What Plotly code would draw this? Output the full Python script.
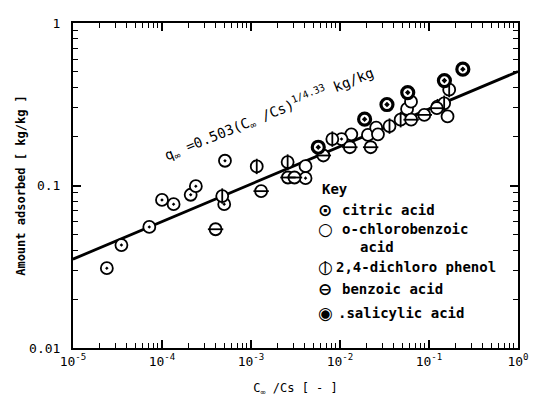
import plotly.graph_objects as go

# ---- data ----
citric_x = [2.4e-5, 3.5e-5, 7.2e-5, 1.0e-4, 1.35e-4, 2.1e-4, 2.4e-4, 5.1e-4, 5.0e-4, 4.1e-3, 1.04e-2]
citric_y = [0.031, 0.043, 0.0556, 0.0815, 0.0767, 0.0877, 0.099, 0.142, 0.0767, 0.111, 0.193]

ochloro_x = [4.1e-3, 1.34e-2, 2.06e-2, 2.55e-2, 2.67e-2, 5.67e-2, 6.28e-2, 0.1615]
ochloro_y = [0.1315, 0.2066, 0.2047, 0.227, 0.2066, 0.296, 0.328, 0.266]

dichloro_x = [4.75e-4, 1.16e-3, 2.58e-3, 8.2e-3, 0.036, 0.048, 0.1247, 0.148, 0.1686]
dichloro_y = [0.0861, 0.131, 0.1394, 0.193, 0.232, 0.254, 0.3057, 0.3205, 0.389]

benzoic_x = [4.0e-4, 1.3e-3, 2.6e-3, 3.08e-3, 6.5e-3, 1.29e-2, 2.21e-2, 6.3e-2, 8.85e-2, 0.1225]
benzoic_y = [0.0538, 0.0923, 0.112, 0.112, 0.153, 0.172, 0.172, 0.254, 0.272, 0.299]

salicylic_x = [5.7e-3, 1.89e-2, 3.37e-2, 5.77e-2, 0.149, 0.24]
salicylic_y = [0.172, 0.256, 0.315, 0.373, 0.442, 0.52]

# Freundlich fit stated on the chart: q = 0.503 (Cw/Cs)^(1/4.33)
fit_a = 0.503
fit_n = 4.33
fit_x = [1e-5, 1.0]
fit_y = [fit_a * x ** (1 / fit_n) for x in fit_x]

x_tickvals = [1e-5, 1e-4, 1e-3, 1e-2, 1e-1, 1]
x_ticktext = ["10<sup>-5</sup>", "10<sup>-4</sup>", "10<sup>-3</sup>",
              "10<sup>-2</sup>", "10<sup>-1</sup>", "10<sup>0</sup>"]
y_tickvals = [0.01, 0.1, 1]
y_ticktext = ["0.01", "0.1", "1"]
x_minor = [m * 10.0 ** e for e in range(-5, 0) for m in range(2, 10)]
y_minor = [m * 10.0 ** e for e in range(-2, 0) for m in range(2, 10)]

# key glyphs (several glyphs in one entry are overlaid)
key_symbols = [["\u2299"], ["\u25cb"], [], ["\u25cb", "|"], ["\u2296"], ["\u25c9"]]
key_labels = ["citric acid", "o-chlorobenzoic", "acid", "2,4-dichloro phenol", "benzoic acid", ".salicylic acid"]

FONT = "DejaVu Sans Mono"
fig = go.Figure()

fig.add_trace(go.Scatter(x=fit_x, y=fit_y, mode="lines",
                         line=dict(color="black", width=2.8), showlegend=False, hoverinfo="skip"))

ms = 12
lw = 1.8
fig.add_trace(go.Scatter(x=ochloro_x, y=ochloro_y, mode="markers", name="o-chlorobenzoic acid",
                         marker=dict(symbol="circle", size=ms, color="white", line=dict(color="black", width=lw))))
fig.add_trace(go.Scatter(x=citric_x, y=citric_y, mode="markers", name="citric acid",
                         marker=dict(symbol="circle-dot", size=ms, color="white", line=dict(color="black", width=lw))))
fig.add_trace(go.Scatter(x=dichloro_x, y=dichloro_y, mode="markers", name="2,4-dichloro phenol",
                         marker=dict(symbol="circle", size=ms, color="white", line=dict(color="black", width=lw))))
fig.add_trace(go.Scatter(x=dichloro_x, y=dichloro_y, mode="markers", showlegend=False, hoverinfo="skip",
                         marker=dict(symbol="line-ns-open", size=ms - 1, color="black",
                                     line=dict(color="black", width=lw))))
fig.add_trace(go.Scatter(x=benzoic_x, y=benzoic_y, mode="markers", name="benzoic acid",
                         marker=dict(symbol="circle", size=ms, color="white", line=dict(color="black", width=lw))))
fig.add_trace(go.Scatter(x=benzoic_x, y=benzoic_y, mode="markers", showlegend=False, hoverinfo="skip",
                         marker=dict(symbol="line-ew-open", size=ms - 1, color="black",
                                     line=dict(color="black", width=lw))))
fig.add_trace(go.Scatter(x=salicylic_x, y=salicylic_y, mode="markers", name="salicylic acid",
                         marker=dict(symbol="circle-dot", size=ms, color="white", line=dict(color="black", width=3.2))))

axis_common = dict(type="log", showline=True, linecolor="black", linewidth=2, mirror="allticks",
                   ticks="inside", ticklen=8, tickwidth=1.5, tickcolor="black", showgrid=False,
                   zeroline=False, tickfont=dict(family=FONT, size=13, color="black"))

fig.update_xaxes(range=[-5, 0], tickvals=x_tickvals, ticktext=x_ticktext,
                 minor=dict(tickvals=x_minor, ticks="inside", ticklen=5, tickwidth=1.2,
                            tickcolor="black", showgrid=False),
                 title=dict(text="C<sub>\u221e</sub> /Cs [ - ]", font=dict(family=FONT, size=12, color="black"),
                            standoff=16), **axis_common)
fig.update_yaxes(range=[-2, 0], tickvals=y_tickvals, ticktext=y_ticktext, ticklabelstandoff=8,
                 minor=dict(tickvals=y_minor, ticks="inside", ticklen=5, tickwidth=1.2,
                            tickcolor="black", showgrid=False),
                 title=dict(text="<b>Amount adsorbed [ kg/kg ]</b>", font=dict(family=FONT, size=12, color="black"),
                            standoff=1), **axis_common)

fig.add_annotation(x=-2.80, y=-0.559, xref="x", yref="y", textangle=-22, showarrow=False,
                   text="q<sub>\u221e</sub> =0.503(C<sub>\u221e</sub> /Cs)<sup>1/4.33</sup> kg/kg",
                   font=dict(family=FONT, size=14, color="black"))

fig.add_annotation(x=0.556, y=0.489, xref="paper", yref="paper", xanchor="left", yanchor="middle",
                   showarrow=False, text="<b>Key</b>", font=dict(family=FONT, size=14, color="black"))
key_y = [0.426, 0.366, 0.312, 0.249, 0.183, 0.108]
key_text_x = [0.6, 0.6, 0.64, 0.586, 0.6, 0.59]
for syms, lab, yy, tx in zip(key_symbols, key_labels, key_y, key_text_x):
    for sym in syms:
        fig.add_annotation(x=0.567, y=yy, xref="paper", yref="paper", xanchor="center", yanchor="middle",
                           showarrow=False, text="<b>" + sym + "</b>",
                           font=dict(family="DejaVu Sans", size=17 if sym != "|" else 12, color="black"))
    fig.add_annotation(x=tx, y=yy, xref="paper", yref="paper", xanchor="left", yanchor="middle",
                       showarrow=False, text="<b>" + lab.replace(" ", "\u00a0") + "</b>",
                       font=dict(family=FONT, size=14, color="black"))

# the page adds a body margin, so the figure is smaller and margins compensate
fig.update_layout(width=529, height=393, margin=dict(l=65, r=16, t=8, b=52),
                  paper_bgcolor="white", plot_bgcolor="white", showlegend=False)

fig.write_html("out.html")
